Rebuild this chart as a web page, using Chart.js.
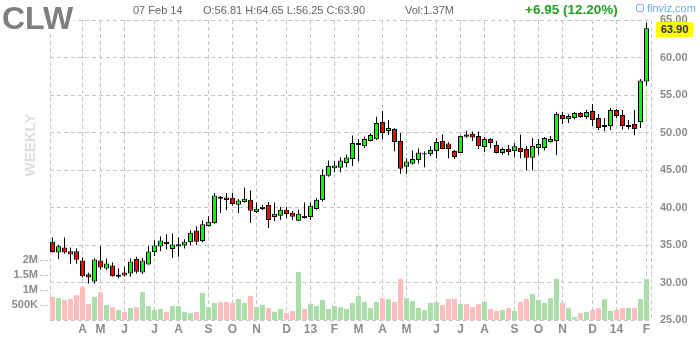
<!DOCTYPE html>
<html><head><meta charset="utf-8">
<script src="https://cdn.jsdelivr.net/npm/chart.js@4.4.0/dist/chart.umd.min.js"></script>
<style>
html,body{margin:0;padding:0;background:#fff;}
#wrap{position:relative;width:700px;height:340px;overflow:hidden;font-family:"Liberation Sans",Arial,sans-serif;}
canvas{position:absolute;left:0;top:0;}
.t{position:absolute;white-space:nowrap;}
</style></head><body>
<div id="wrap">
<canvas id="c" width="700" height="340"></canvas>
<div class="t" style="left:2px;top:2px;font-size:32px;line-height:32px;font-weight:bold;color:#7f7f7f;background:#fff;padding-right:1px;">CLW</div>
<div class="t" style="left:133px;top:5px;font-size:11px;line-height:11px;color:#666;">07 Feb 14</div>
<div class="t" style="left:203px;top:5px;font-size:11px;line-height:11px;color:#666;">O:56.81 H:64.65 L:56.25 C:63.90</div>
<div class="t" style="left:405px;top:5px;font-size:11px;line-height:11px;color:#666;">Vol:1.37M</div>
<div class="t" style="left:525px;top:3px;font-size:13.5px;line-height:13px;font-weight:bold;color:#22a022;">+6.95 (12.20%)</div>
<div class="t" style="left:636px;top:4px;width:6px;height:6px;border:1px solid #7fb3e3;border-radius:2px;"></div>
<div class="t" style="left:647px;top:3px;font-size:11px;line-height:11px;color:#6aaae6;">finviz.com</div>
<div class="t" style="left:-10px;top:137px;width:80px;text-align:center;font-size:15px;line-height:16px;font-weight:bold;color:#dedede;transform:rotate(-90deg);">WEEKLY</div>
<div class="t" style="left:656px;top:22px;width:37px;height:15px;background:#ffff00;color:#333;font-size:11px;line-height:15px;font-weight:bold;text-align:center;">63.90</div>
</div>
<script>
// Weekly candles, Mar 2012 .. 07 Feb 2014
const opens = [35.45,34.00,34.66,34.17,34.17,32.93,31.11,30.14,32.93,31.87,32.26,30.76,31.34,31.20,33.15,31.34,32.40,34.08,34.79,35.45,34.48,34.79,34.92,35.41,
36.92,35.54,37.54,37.93,41.43,41.34,41.30,40.37,40.73,41.03,39.40,39.80,40.37,38.73,38.91,39.70,39.31,38.24,38.91,38.73,39.80,40.99,44.22,45.24,
45.29,45.95,46.48,48.34,48.17,48.88,49.10,51.40,50.20,50.47,48.88,45.42,45.82,46.35,47.06,47.15,47.55,48.88,48.52,47.55,47.28,49.72,49.85,49.54,48.08,49.14,48.34,
47.28,47.81,47.55,47.95,47.81,46.62,47.95,47.95,48.74,48.87,52.33,51.80,51.93,52.60,52.07,52.86,51.93,50.74,50.87,53.00,52.33,50.74,51.14,51.40,56.81];
const highs = [35.99,35.01,35.99,34.66,34.57,33.33,31.29,33.20,34.83,33.20,32.66,31.87,32.09,33.20,33.42,33.28,34.88,35.63,36.12,36.43,36.52,36.03,35.77,36.96,
37.49,38.29,38.82,41.92,41.52,41.92,41.97,41.12,42.67,42.28,40.68,40.33,40.73,40.68,40.06,40.06,39.53,39.70,40.68,40.68,41.26,45.11,46.26,46.17,
46.70,47.02,49.59,49.14,49.45,49.90,52.11,52.86,51.67,50.60,49.94,46.57,47.59,47.86,47.50,48.17,49.27,49.72,48.74,47.68,49.59,50.25,50.12,50.12,49.41,49.23,48.87,
47.99,48.34,48.61,49.72,48.21,49.27,49.14,49.41,49.54,52.73,52.73,52.42,52.73,52.73,53.04,53.79,52.47,51.93,53.26,53.13,53.00,51.67,53.00,57.12,64.65];
const lows = [33.99,33.15,33.86,32.53,32.53,30.67,29.87,29.87,31.69,31.69,30.76,30.63,30.76,30.76,31.20,31.16,32.40,33.55,34.21,34.39,33.28,33.42,34.52,34.97,
35.01,35.37,37.45,37.85,39.26,39.62,40.28,39.26,40.64,37.93,39.26,39.62,37.27,38.16,38.33,38.60,38.33,38.16,38.55,38.33,39.70,40.81,44.09,44.71,
44.71,45.38,45.51,46.17,47.95,48.79,49.01,49.10,49.67,47.50,44.49,44.49,45.73,45.87,45.38,46.84,46.53,47.77,46.57,46.48,47.28,49.27,48.88,47.81,47.41,47.90,47.20,
47.02,46.97,46.66,46.57,44.98,44.98,47.02,47.59,48.66,46.97,51.14,51.27,51.75,51.98,51.80,50.87,50.34,50.16,50.34,51.93,50.43,50.43,49.63,50.60,56.25];
const closes = [34.08,34.83,34.00,33.73,33.02,30.85,30.67,33.06,32.00,32.53,30.85,31.02,30.94,32.80,31.42,32.93,34.13,34.92,35.59,35.14,35.06,35.10,35.45,36.65,
35.45,37.76,38.11,41.61,41.17,40.99,40.46,40.95,41.17,39.57,39.84,40.10,38.33,39.17,39.70,39.13,38.78,39.17,38.60,40.24,41.03,44.36,45.55,45.60,
46.26,46.66,48.61,48.61,49.14,49.67,51.27,49.94,50.60,48.74,45.16,46.13,46.48,47.33,47.24,47.68,48.74,47.81,47.81,46.75,49.54,49.45,49.32,48.21,49.14,48.61,47.28,
47.81,47.41,48.17,47.41,46.62,48.21,48.48,49.27,49.14,52.47,51.80,52.20,52.60,52.07,52.73,51.67,50.60,51.00,53.00,52.20,50.87,51.00,50.47,56.95,63.90];
const volumes = [0.77,0.73,0.67,0.70,0.83,1.10,0.53,0.77,0.93,0.50,0.43,0.33,0.27,0.40,0.43,0.93,0.47,0.33,0.37,0.27,0.47,0.47,0.27,0.23,
0.27,0.90,0.43,0.57,0.60,0.60,0.57,0.70,0.57,0.80,0.43,0.50,0.40,0.27,0.37,0.23,0.30,1.60,0.37,0.53,0.47,0.67,0.37,0.47,
0.43,0.37,0.57,0.80,0.60,0.40,0.60,0.73,0.70,0.60,1.37,0.73,0.63,0.40,0.33,0.57,0.60,0.50,0.70,0.70,0.53,0.53,0.43,0.53,0.60,0.37,0.30,
0.33,0.40,0.30,0.60,0.70,0.87,0.67,0.57,0.73,1.37,0.57,0.40,0.10,0.23,0.27,0.33,0.40,0.70,0.30,0.33,0.40,0.40,0.40,0.70,1.37];
// month starts (week index) and their labels
const monthIdx = [5,8,12,17,21,26,30,34,39,43,47,51,55,59,64,68,72,77,81,85,90,94,99];
const monthLabels = ['A','M','J','J','A','S','O','N','D','13','F','M','A','M','J','J','A','S','O','N','D','14','F'];
const priceTicks = [25,30,35,40,45,50,55,60,65];
const volTicks = [0.5,1,1.5,2];
const volTickLabels = ['500K','1M','1.5M','2M'];

const XMIN = -2.5/6, XMAX = XMIN + 601/6;
const GRID = '#c6c6c6';
const TICKC = '#8c8c8c';
const FONT = 'Liberation Sans';

const bodies = opens.map((o,i)=>({x:i, y:[o, closes[i]]}));
const wicks = lows.map((l,i)=>({x:i, y:[l, highs[i]]}));
const vols = volumes.map((v,i)=>({x:i, y:v}));
const up = opens.map((o,i)=> closes[i] >= o);

new Chart(document.getElementById('c').getContext('2d'), {
  type:'bar',
  data:{datasets:[
    {data:bodies, backgroundColor:up.map(u=>u?'#00ff00':'#ff0000'), borderColor:'#000', borderWidth:1, borderSkipped:false,
     barThickness:5, grouped:false, inflateAmount:0, yAxisID:'y', order:0},
    {data:wicks, backgroundColor:'#000', borderWidth:0, barThickness:1, grouped:false, inflateAmount:0, yAxisID:'y', order:1},
    {data:vols, backgroundColor:up.map(u=>u?'#aadfaa':'#ffbdbd'), borderWidth:0, barThickness:5, grouped:false, inflateAmount:0, yAxisID:'v', order:2}
  ]},
  options:{
    responsive:false, animation:false, events:[],
    layout:{padding:{top:20,left:0,right:0,bottom:0}},
    plugins:{legend:{display:false}, tooltip:{enabled:false}},
    scales:{
      x:{type:'linear', min:XMIN, max:XMAX, offset:false,
        afterBuildTicks:s=>{ s.ticks=[XMIN,...monthIdx,XMAX].map(v=>({value:v})); },
        afterFit:s=>{ s.height=20; },
        grid:{color:GRID, drawTicks:false, offset:false, borderDash:[4,3]},
        border:{display:false, dash:[4,3]},
        ticks:{autoSkip:false, maxRotation:0, padding:2, color:TICKC, font:{family:FONT,size:12,weight:'bold'},
          callback:v=>{ const k=monthIdx.indexOf(v); return k>=0?monthLabels[k]:''; }}
      },
      y:{type:'linear', position:'right', min:25, max:65,
        afterBuildTicks:s=>{ s.ticks=priceTicks.map(v=>({value:v})); },
        afterFit:s=>{ s.width=49; },
        grid:{color:GRID, drawTicks:false, borderDash:[4,3]},
        border:{display:false, dash:[4,3]},
        ticks:{padding:9, color:TICKC, font:{family:FONT,size:11,weight:'bold'}, callback:v=>Number(v).toFixed(2)}
      },
      v:{type:'linear', position:'left', min:0, max:10,
        afterBuildTicks:s=>{ s.ticks=volTicks.map(v=>({value:v})); },
        afterFit:s=>{ s.width=50; },
        grid:{drawOnChartArea:false, drawTicks:true, tickLength:10, tickColor:GRID, tickBorderDash:[3,2]},
        border:{display:false},
        ticks:{padding:2, color:TICKC, font:{family:FONT,size:11,weight:'bold'},
          callback:v=>{ const k=volTicks.indexOf(v); return k>=0?volTickLabels[k]:''; }}
      }
    }
  }
});
</script>
</body></html>
